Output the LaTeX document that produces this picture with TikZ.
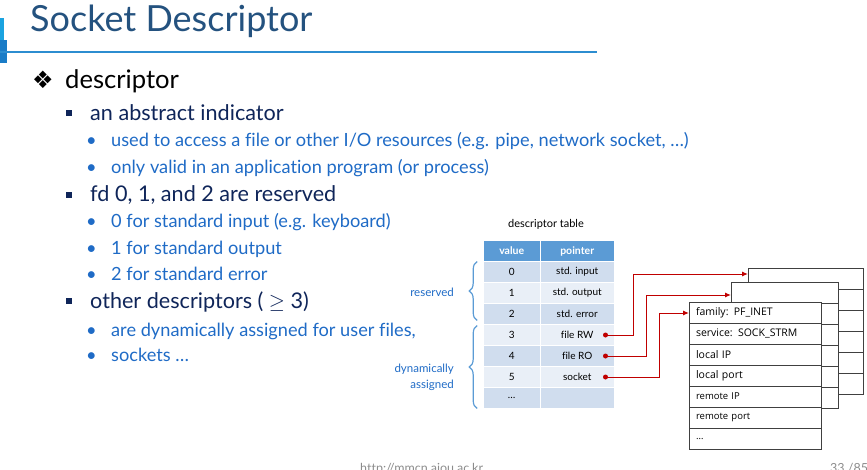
\documentclass[tikz,border=0pt]{standalone}
\usepackage{fontspec}
\setmainfont{Lato}[Ligatures=NoCommon]
\newfontfamily\boxfont{Open Sans}
\newfontfamily\symfont{DejaVu Sans}
\usetikzlibrary{arrows.meta, positioning, decorations.pathreplacing}
\definecolor{titleblue}{HTML}{24527F}
\definecolor{navy}{HTML}{0F2559}
\definecolor{itemblue}{HTML}{1F6BC6}
\definecolor{headblue}{HTML}{5B9BD5}
\definecolor{rowdark}{HTML}{D0DDEE}
\definecolor{rowlight}{HTML}{E9EFF7}
\definecolor{ptrred}{HTML}{C00000}
\definecolor{slotgray}{HTML}{404040}
\definecolor{barcyan}{HTML}{1AA3E0}
\definecolor{bardeep}{HTML}{1A7CC7}
\definecolor{rulebl}{HTML}{2C8DD0}
\definecolor{footgray}{HTML}{8C8C8C}

\begin{document}
\begin{tikzpicture}[
  x=1pt, y=-1pt,
  lvlone/.style={anchor=base west, inner sep=0pt, font=\fontsize{25.6}{30}\selectfont},
  lvltwo/.style={anchor=base west, inner sep=0pt, text=navy, font=\fontsize{21.6}{26}\selectfont},
  lvlthree/.style={anchor=base west, inner sep=0pt, text=itemblue, font=\fontsize{18.2}{22}\selectfont},
  cell/.style={draw=white, line width=1pt, outer sep=0pt, inner sep=0pt, minimum height=21pt, font=\fontsize{10}{12}\selectfont},
  head/.style={cell, fill=headblue, text=white, font=\bfseries\fontsize{10.5}{12}\selectfont},
  dark/.style={cell, fill=rowdark},
  light/.style={cell, fill=rowlight},
  vcol/.style={minimum width=57pt},
  pcol/.style={minimum width=74pt},
  slot/.style={draw=slotgray, line width=1pt, fill=white, outer sep=0pt, inner xsep=7pt, inner ysep=0pt, minimum height=21pt},
  field/.style={slot, text width=118pt, align=left, font=\boxfont\fontsize{10.5}{12}\selectfont},
  smallfield/.style={field, font=\boxfont\fontsize{9.5}{12}\selectfont},
  dot/.style={circle, fill=ptrred, inner sep=0pt, minimum size=5pt},
  ptr/.style={-{Latex[length=6pt,width=5pt]}, draw=ptrred, line width=1pt},
  brace/.style={decorate, decoration={brace, amplitude=8pt}, draw=headblue, line width=1.2pt},
  bracelbl/.style={anchor=east, inner sep=0pt, text=itemblue, font=\fontsize{11.5}{16}\selectfont},
  foot/.style={anchor=base west, inner sep=0pt, text=footgray, font=\fontsize{12.5}{15}\selectfont}
]
\useasboundingbox (0,0) rectangle (867,469);

% title bar
\fill[barcyan] (0,18) rectangle (4,40);
\fill[bardeep] (0,40) rectangle (7,63);
\draw[rulebl, line width=1.8pt] (0,52.3) -- (597,52.3);
\node[anchor=base west, inner sep=0pt, text=titleblue, font=\fontsize{36}{42}\selectfont] (title) at (30,31.7) {Socket Descriptor};

% bullet list
\node[lvlone] (desc) at (32,88.3) {\makebox[33pt][l]{\symfont\fontsize{24}{26}\selectfont ❖}descriptor};
\node[lvltwo] (abstr) at (66,120) {\makebox[24pt][l]{\raisebox{4pt}{\rule{6pt}{6pt}}}an abstract indicator};
\node[lvlthree] (use) at (86,146.7) {\makebox[25pt][l]{•}used to access a file or other I/O resources (e.g. pipe, network socket, …)};
\node[lvlthree] (valid) at (86,173.3) {\makebox[25pt][l]{•}only valid in an application program (or process)};
\node[lvltwo] (fd) at (66,201.7) {\makebox[24pt][l]{\raisebox{4pt}{\rule{6pt}{6pt}}}fd 0, 1, and 2 are reserved};
\node[lvlthree] (stdin) at (86,227.7) {\makebox[25pt][l]{•}0 for standard input (e.g. keyboard)};
\node[lvlthree] (stdout) at (86,254) {\makebox[25pt][l]{•}1 for standard output};
\node[lvlthree] (stderr) at (86,280) {\makebox[25pt][l]{•}2 for standard error};
\node[lvltwo] (other) at (66,308.3) {\makebox[24pt][l]{\raisebox{4pt}{\rule{6pt}{6pt}}}other descriptors ( $\geq$ 3)};
\node[lvlthree] (userf) at (86,336) {\makebox[25pt][l]{•}are dynamically assigned for user files,};
\node[lvlthree] (sock) at (86,361.7) {\makebox[25pt][l]{•}sockets …};

% descriptor table
\node[font=\fontsize{11}{13}\selectfont] (tcap) at (546,224) {descriptor table};
\node[head, vcol] (hv) at (511.7,251) {value};
\node[head, pcol, right=0pt of hv] (hp) {pointer};
\node[dark, vcol, below=0pt of hv] (v0) {0};
\node[dark, pcol, below=0pt of hp] (p0) {std. input};
\node[light, vcol, below=0pt of v0] (v1) {1};
\node[light, pcol, below=0pt of p0] (p1) {std. output};
\node[dark, vcol, below=0pt of v1] (v2) {2};
\node[dark, pcol, below=0pt of p1] (p2) {std. error};
\node[light, vcol, below=0pt of v2] (v3) {3};
\node[light, pcol, below=0pt of p2] (p3) {file RW};
\node[dark, vcol, below=0pt of v3] (v4) {4};
\node[dark, pcol, below=0pt of p3] (p4) {file RO};
\node[light, vcol, below=0pt of v4] (v5) {5};
\node[light, pcol, below=0pt of p4] (p5) {socket};
\node[dark, vcol, below=0pt of v5] (v6) {…};
\node[dark, pcol, below=0pt of p5] (p6) {};

% braces
\draw[brace] ([xshift=-6pt,yshift=4pt]v2.south west) -- ([xshift=-6pt]v0.north west);
\draw[brace] ([xshift=-6pt]v6.south west) -- ([xshift=-6pt,yshift=-1pt]v3.north west);
\node[bracelbl] (res) at (454,292) {reserved};
\node[bracelbl, align=right] (dyn) at (454,377) {dynamically\\assigned};

% socket structures, back to front
\node[slot, minimum width=115pt, anchor=north west] (b1) at (748,268) {};
\node[slot, minimum width=115pt, below=0pt of b1] (b2) {};
\node[slot, minimum width=115pt, below=0pt of b2] (b3) {};
\node[slot, minimum width=115pt, below=0pt of b3] (b4) {};
\node[slot, minimum width=115pt, below=0pt of b4] (b5) {};
\node[slot, minimum width=115pt, below=0pt of b5] (b6) {};
\node[slot, minimum width=107pt, anchor=north west] (m1) at (731,282) {};
\node[slot, minimum width=107pt, below=0pt of m1] (m2) {};
\node[slot, minimum width=107pt, below=0pt of m2] (m3) {};
\node[slot, minimum width=107pt, below=0pt of m3] (m4) {};
\node[slot, minimum width=107pt, below=0pt of m4] (m5) {};
\node[slot, minimum width=107pt, below=0pt of m5] (m6) {};
\node[field, anchor=north west] (f1) at (689,302) {family: PF\_INET};
\node[field, below=0pt of f1] (f2) {service: SOCK\_STRM};
\node[field, below=0pt of f2] (f3) {local IP};
\node[field, below=0pt of f3] (f4) {local port};
\node[smallfield, below=0pt of f4] (f5) {remote IP};
\node[smallfield, below=0pt of f5] (f6) {remote port};
\node[smallfield, below=0pt of f6] (f7) {…};

% pointers
\node[dot, left=6pt of p3.east] (d3) {};
\node[dot, left=6pt of p4.east] (d4) {};
\node[dot, left=6pt of p5.east] (d5) {};
\coordinate (k3) at (633,274);
\coordinate (k4) at (646,295);
\coordinate (k5) at (659,313);
\draw[ptr] (d3.center) -| (k3) -- (k3 -| b1.west);
\draw[ptr] (d4.center) -| (k4) -- (k4 -| m1.west);
\draw[ptr] (d5.center) -| (k5) -- (k5 -| f1.west);

% footer
\node[foot] (url) at (360,472) {http://mmcn.ajou.ac.kr};
\node[foot] (page) at (830,472) {33 /85};
\end{tikzpicture}
\end{document}
